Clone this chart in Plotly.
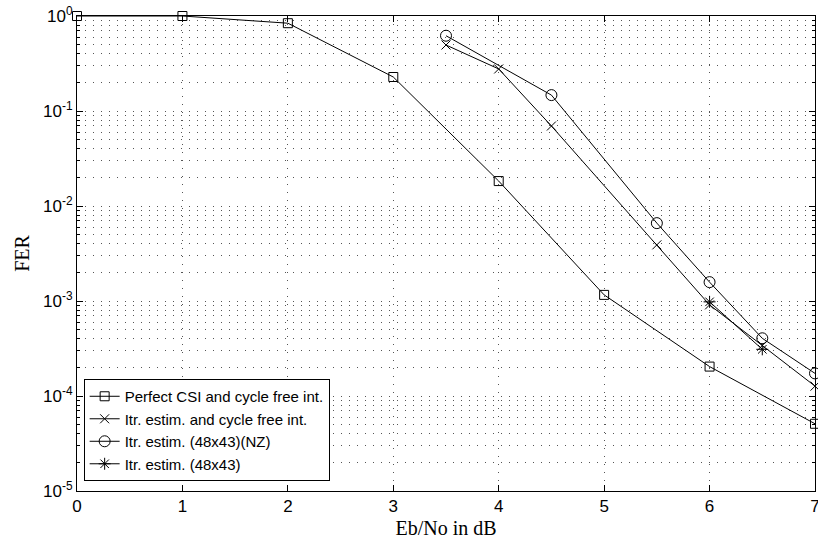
import plotly.graph_objects as go

# Data
x_perfect = [0, 1, 2, 3, 4, 5, 6, 7]
fer_perfect = [1.0, 1.0, 0.84, 0.228, 0.0183, 0.00116, 0.000204, 5.1e-5]

x_itr = [3.5, 4, 4.5, 5.5, 6, 6.5, 7]
fer_itr = [0.495, 0.277, 0.0695, 0.0039, 0.00091, 0.00034, 1.27e-4]

x_nz = [3.5, 4.5, 5.5, 6, 6.5, 7]
fer_nz = [0.62, 0.147, 0.0066, 0.00158, 0.000405, 1.73e-4]

x_48 = [6, 6.5]
fer_48 = [0.00098, 0.00031]

names = ["Perfect CSI and cycle free int.",
         "Itr. estim. and cycle free int.",
         "Itr. estim. (48x43)(NZ)",
         "Itr. estim. (48x43)"]

x_ticks = [0, 1, 2, 3, 4, 5, 6, 7]
y_tickvals = [1, 0.1, 0.01, 0.001, 1e-4, 1e-5]
y_ticktext = ["10<sup>0</sup>", "10<sup>-1</sup>", "10<sup>-2</sup>",
              "10<sup>-3</sup>", "10<sup>-4</sup>", "10<sup>-5</sup>"]

fig = go.Figure()
series = [
    (x_perfect, fer_perfect, "square-open", 9),
    (x_itr, fer_itr, "x-thin-open", 9),
    (x_nz, fer_nz, "circle-open", 11),
    (x_48, fer_48, "asterisk-open", 10),
]
for (xs, ys, sym, sz), nm in zip(series, names):
    fig.add_trace(go.Scatter(
        x=xs, y=ys, name=nm, mode="lines+markers", cliponaxis=False,
        line=dict(color="black", width=1),
        marker=dict(symbol=sym, size=sz, color="black",
                    line=dict(color="black", width=1)),
    ))

grid_dash = "1px,7px"
grid_color = "#555"
fig.update_layout(
    width=818, height=546,
    margin=dict(l=77, r=3, t=16, b=55),
    paper_bgcolor="white", plot_bgcolor="white",
    font=dict(family="Liberation Sans, Arial", size=17, color="black"),
    legend=dict(
        x=0.009, y=0.021, xanchor="left", yanchor="bottom",
        bgcolor="white", bordercolor="black", borderwidth=1,
        font=dict(family="Liberation Sans, Arial", size=15, color="black"),
        tracegroupgap=0, itemwidth=30,
    ),
    xaxis=dict(
        range=[0, 7], tickvals=x_ticks, ticklabeloverflow="allow",
        automargin=False,
        tickfont=dict(size=17),
        title=dict(text="Eb/No in dB", font=dict(family="Liberation Serif, Times New Roman", size=20), standoff=5),
        showline=True, linecolor="black", linewidth=1, mirror="allticks",
        ticks="inside", ticklen=6, tickcolor="black",
        showgrid=True, gridcolor=grid_color, gridwidth=1, griddash=grid_dash,
        zeroline=False,
    ),
    yaxis=dict(
        type="log", range=[-5, 0],
        tickvals=y_tickvals, ticktext=y_ticktext, ticklabeloverflow="allow",
        automargin=False,
        tickfont=dict(size=17),
        title=dict(text="FER", font=dict(family="Liberation Serif, Times New Roman", size=20), standoff=8),
        showline=True, linecolor="black", linewidth=1, mirror="allticks",
        ticks="inside", ticklen=6, tickcolor="black",
        showgrid=True, gridcolor=grid_color, gridwidth=1, griddash=grid_dash,
        zeroline=False,
        minor=dict(ticks="inside", ticklen=3, tickcolor="black",
                   showgrid=True, gridcolor=grid_color, gridwidth=1, griddash=grid_dash,
                   dtick="D1"),
    ),
)

fig.write_html("out.html")
